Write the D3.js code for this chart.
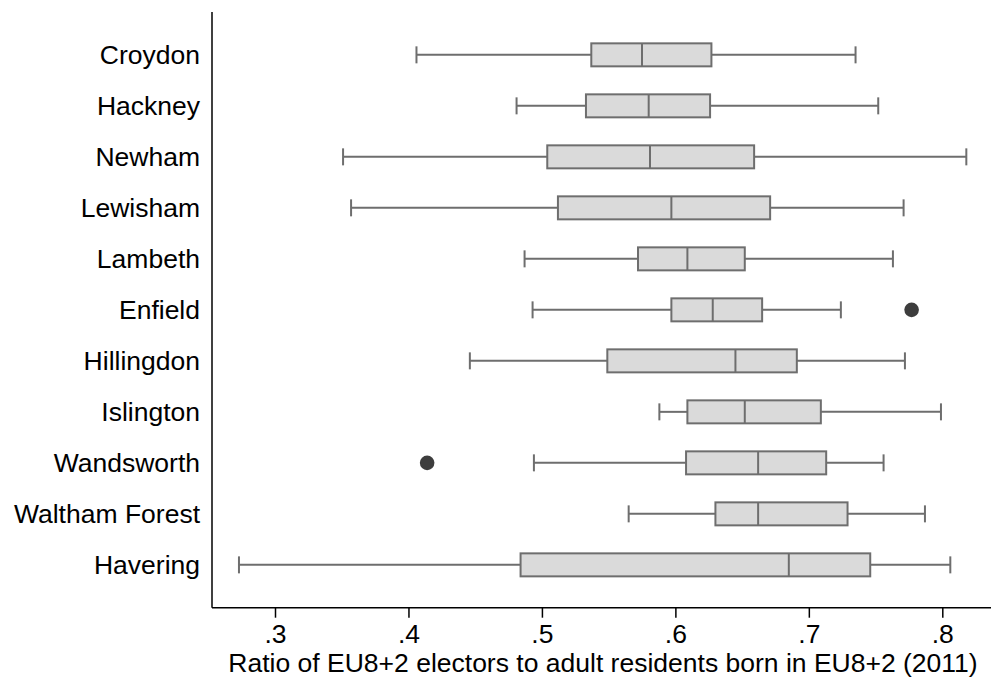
<!DOCTYPE html>
<html>
<head>
<meta charset="utf-8">
<script src="https://cdn.jsdelivr.net/npm/d3@7"></script>
<style>
  body { margin: 0; background: #fff; }
  text { font-family: "Liberation Sans", Arial, sans-serif; fill: #000; }
</style>
</head>
<body>
<div id="container"></div>
<script>
// boroughs, top to bottom
const boroughs = ["Croydon", "Hackney", "Newham", "Lewisham", "Lambeth", "Enfield",
  "Hillingdon", "Islington", "Wandsworth", "Waltham Forest", "Havering"]
// box plot pieces, same order as boroughs
const whiskerLow  = [0.406, 0.481, 0.351, 0.357, 0.487, 0.493, 0.446, 0.588, 0.494, 0.565, 0.273]
const q1          = [0.537, 0.533, 0.504, 0.512, 0.572, 0.597, 0.549, 0.609, 0.608, 0.630, 0.484]
const median      = [0.575, 0.580, 0.581, 0.597, 0.609, 0.628, 0.645, 0.652, 0.662, 0.662, 0.685]
const q3          = [0.627, 0.626, 0.659, 0.671, 0.652, 0.665, 0.691, 0.709, 0.713, 0.729, 0.746]
const whiskerHigh = [0.735, 0.752, 0.818, 0.771, 0.763, 0.724, 0.772, 0.799, 0.756, 0.787, 0.806]
// outside values
const outlierBorough = ["Enfield", "Wandsworth"]
const outlierValue   = [0.777, 0.414]
const xTicks = [0.3, 0.4, 0.5, 0.6, 0.7, 0.8]

const width = 992
const height = 680
const plotLeft = 212, plotTop = 12, plotBottom = 607.7, plotRight = 991
const fontSize = "26.5px"

const data = boroughs.map((b, i) => ({
    name: b, lo: whiskerLow[i], q1: q1[i], med: median[i], q3: q3[i], hi: whiskerHigh[i]
}))

const x = d3.scaleLinear().domain([0.3, 0.8]).range([275, 942.3])
const y = d3.scalePoint().domain(boroughs).range([plotTop, plotBottom]).padding(0.84)

const svg = d3.create("svg")
    .attr("width", width)
    .attr("height", height)

svg.append("rect").attr("width", width).attr("height", height).attr("fill", "#fff")

const boxColor = "#6e6e6e"
const boxH = 23, capH = 17

const rows = svg.append("g").selectAll("g")
    .data(data)
    .enter()
    .append("g")
    .attr("transform", d => `translate(0,${y(d.name)})`)

rows.append("line")
    .attr("x1", d => x(d.lo)).attr("x2", d => x(d.q1))
    .attr("stroke", boxColor).attr("stroke-width", 2)
rows.append("line")
    .attr("x1", d => x(d.q3)).attr("x2", d => x(d.hi))
    .attr("stroke", boxColor).attr("stroke-width", 2)
rows.append("line")
    .attr("x1", d => x(d.lo)).attr("x2", d => x(d.lo))
    .attr("y1", -capH / 2).attr("y2", capH / 2)
    .attr("stroke", boxColor).attr("stroke-width", 2)
rows.append("line")
    .attr("x1", d => x(d.hi)).attr("x2", d => x(d.hi))
    .attr("y1", -capH / 2).attr("y2", capH / 2)
    .attr("stroke", boxColor).attr("stroke-width", 2)
rows.append("rect")
    .attr("x", d => x(d.q1))
    .attr("width", d => x(d.q3) - x(d.q1))
    .attr("y", -boxH / 2)
    .attr("height", boxH)
    .attr("fill", "#dadada")
    .attr("stroke", boxColor).attr("stroke-width", 2)
rows.append("line")
    .attr("x1", d => x(d.med)).attr("x2", d => x(d.med))
    .attr("y1", -boxH / 2).attr("y2", boxH / 2)
    .attr("stroke", boxColor).attr("stroke-width", 2)

svg.append("g").selectAll("circle")
    .data(outlierValue)
    .enter()
    .append("circle")
    .attr("cx", d => x(d))
    .attr("cy", (d, i) => y(outlierBorough[i]))
    .attr("r", 7.3)
    .attr("fill", "#3d3d3d")

// category labels
svg.append("g").selectAll("text")
    .data(boroughs)
    .enter()
    .append("text")
    .attr("x", 200)
    .attr("y", d => y(d))
    .attr("dy", "0.36em")
    .attr("text-anchor", "end")
    .style("font-size", fontSize)
    .text(d => d)

// axes
svg.append("line")
    .attr("x1", plotLeft).attr("x2", plotLeft).attr("y1", plotTop).attr("y2", plotBottom)
    .attr("stroke", "#000").attr("stroke-width", 1.5)

const xAxis = svg.append("g")
    .attr("transform", `translate(0,${plotBottom})`)
    .call(d3.axisBottom(x).tickValues(xTicks).tickSize(10).tickPadding(6)
        .tickFormat(d => d3.format(".1f")(d).replace(/^0/, "")))
xAxis.select(".domain").attr("d", `M${plotLeft},0H${plotRight}`).attr("stroke-width", 1.5)
xAxis.selectAll(".tick line").attr("stroke-width", 1.5)
xAxis.selectAll(".tick text").style("font-size", fontSize).style("font-family", "Liberation Sans, Arial, sans-serif")

svg.append("text")
    .attr("x", 603)
    .attr("y", 672)
    .attr("text-anchor", "middle")
    .style("font-size", fontSize)
    .text("Ratio of EU8+2 electors to adult residents born in EU8+2 (2011)")

document.querySelector("#container").appendChild(svg.node())
</script>
</body>
</html>
